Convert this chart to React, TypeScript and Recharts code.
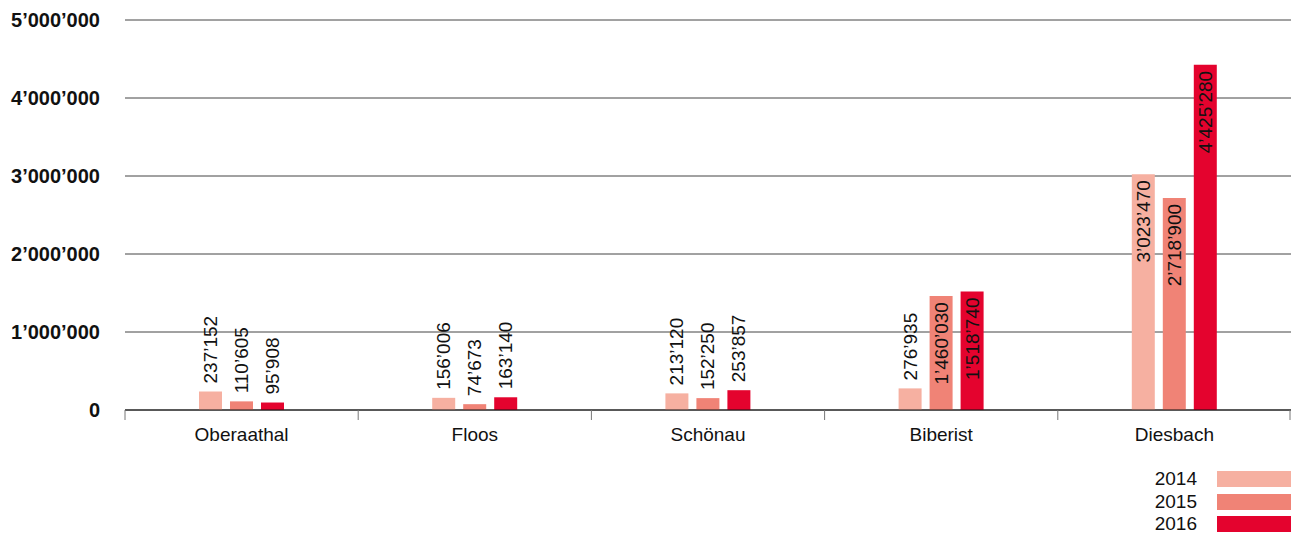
import React from "react";
import { BarChart, Bar, XAxis, YAxis, CartesianGrid, LabelList } from "recharts";

const CATEGORIES = ["Oberaathal", "Floos", "Schönau", "Biberist", "Diesbach"];
const YEARS = ["2014", "2015", "2016"];
const VALUES_2014 = [237152, 156006, 213120, 276935, 3023470];
const VALUES_2015 = [110605, 74673, 152250, 1460030, 2718900];
const VALUES_2016 = [95908, 163140, 253857, 1518740, 4425280];
const Y_TICKS = [0, 1000000, 2000000, 3000000, 4000000, 5000000];

const COLORS = ["#f6b0a1", "#f08376", "#e4032e"];
const FONT = '"Liberation Sans", Arial, Helvetica, sans-serif';

const W = 1291;
const H = 536;
const Y_AXIS_W = 125;
const PLOT_W = W - Y_AXIS_W;

const data = CATEGORIES.map((name, i) => ({
  name,
  y2014: VALUES_2014[i],
  y2015: VALUES_2015[i],
  y2016: VALUES_2016[i],
}));

const fmt = (n: number) =>
  String(n).replace(/\B(?=(\d{3})+(?!\d))/g, "\u2019");

function YTick(props: any) {
  const { x, y, payload } = props;
  return (
    <text
      x={x - 25}
      y={y}
      dy="0.36em"
      textAnchor="end"
      fontFamily={FONT}
      fontSize={20}
      fontWeight="bold"
      fill="#111"
    >
      {fmt(payload.value)}
    </text>
  );
}

function XTick(props: any) {
  const { x, y, payload, index } = props;
  const band = PLOT_W / CATEGORIES.length;
  const last = index === CATEGORIES.length - 1;
  return (
    <g>
      <line x1={x - band / 2} x2={x - band / 2} y1={y} y2={y + 10} stroke="#777" />
      {last && (
        <line x1={x + band / 2 - 1} x2={x + band / 2 - 1} y1={y} y2={y + 10} stroke="#777" />
      )}
      <text
        x={x}
        y={y + 31}
        textAnchor="middle"
        fontFamily={FONT}
        fontSize={19}
        fill="#111"
      >
        {payload.value}
      </text>
    </g>
  );
}

function BarLabel(props: any) {
  const { x, y, width, value } = props;
  const cx = x + width / 2;
  const inside = value >= 1000000;
  const ty = inside ? y + 6 : y - 8;
  return (
    <text
      transform={`translate(${cx},${ty}) rotate(-90)`}
      textAnchor={inside ? "end" : "start"}
      dominantBaseline="central"
      fontFamily={FONT}
      fontSize={19}
      fill="#111"
    >
      {fmt(value)}
    </text>
  );
}

export default function App() {
  const keys = ["y2014", "y2015", "y2016"];
  return (
    <div style={{ position: "relative", width: W, height: H, background: "#fff" }}>
      <style>{"body{margin:0}"}</style>
      <BarChart
        width={W}
        height={H}
        data={data}
        margin={{ top: 20, right: 0, left: 0, bottom: 0 }}
        barSize={23}
        barGap={8}
      >
        <CartesianGrid vertical={false} stroke="#444" strokeWidth={1} />
        <XAxis
          dataKey="name"
          height={126}
          tick={<XTick />}
          tickLine={false}
          tickSize={0}
          tickMargin={0}
          axisLine={{ stroke: "#111" }}
          interval={0}
        />
        <YAxis
          width={Y_AXIS_W}
          domain={[0, 5000000]}
          ticks={Y_TICKS}
          tick={<YTick />}
          tickLine={false}
          tickSize={0}
          tickMargin={0}
          axisLine={false}
        />
        {keys.map((k, i) => (
          <Bar key={k} dataKey={k} fill={COLORS[i]} isAnimationActive={false}>
            <LabelList dataKey={k} content={<BarLabel />} />
          </Bar>
        ))}
      </BarChart>
      <div style={{ position: "absolute", left: 1100, top: 471, width: 191 }}>
        {YEARS.map((yr, i) => (
          <div
            key={yr}
            style={{
              display: "flex",
              alignItems: "center",
              justifyContent: "flex-end",
              height: 16,
              marginBottom: i < YEARS.length - 1 ? 6.5 : 0,
            }}
          >
            <span
              style={{
                fontFamily: FONT,
                fontSize: 19,
                color: "#111",
                marginRight: 20,
                lineHeight: "16px",
              }}
            >
              {yr}
            </span>
            <span style={{ display: "inline-block", width: 74, height: 16, background: COLORS[i] }} />
          </div>
        ))}
      </div>
    </div>
  );
}
